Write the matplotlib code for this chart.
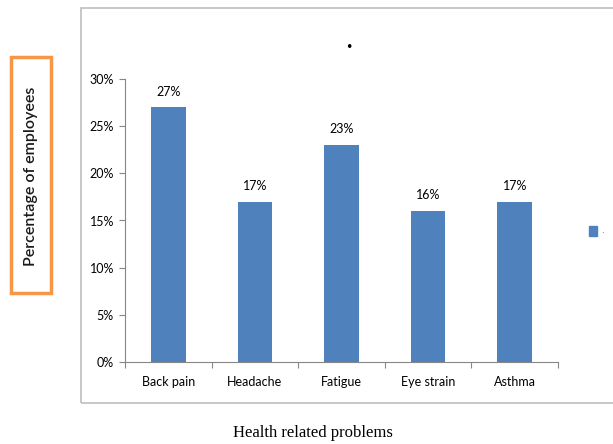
import matplotlib.pyplot as plt
from matplotlib.patches import Rectangle
from matplotlib.ticker import FuncFormatter

# Data ########################################################

problems = ["Back pain", "Headache", "Fatigue", "Eye strain", "Asthma"]
percent = [27, 17, 23, 16, 17]
y_ticks = [0, 5, 10, 15, 20, 25, 30]

# Figure ######################################################

fig = plt.figure(figsize=(6.13, 4.44), dpi=100)
W, H = 613, 444

def px(x0, y0, x1, y1):
    # pixel box -> figure fraction [left, bottom, width, height]
    return [x0 / W, 1 - y1 / H, (x1 - x0) / W, (y1 - y0) / H]

# outer chart frame
fig.patches.append(Rectangle((81 / W, 1 - 403 / H), 1, (403 - 8) / H,
                             transform=fig.transFigure, fill=False,
                             edgecolor="#bfbfbf", linewidth=1.2))

ax = fig.add_axes(px(125, 79, 558, 362))
n = len(problems)
ax.bar(range(n), percent, width=0.4, color="#4f81bd")
for i, v in enumerate(percent):
    ax.annotate(f"{v}%", (i, v), xytext=(0, 7), textcoords="offset points",
                ha="center", va="bottom", fontsize=9, family="Lato")

ax.set_xlim(-0.5, n - 0.5)
ax.set_ylim(0, 30)
ax.set_yticks(y_ticks)
ax.yaxis.set_major_formatter(FuncFormatter(lambda v, p: f"{v:.0f}%"))
ax.set_xticks([i - 0.5 for i in range(n + 1)])
ax.set_xticklabels([])
ax.set_xticks(range(n), minor=True)
ax.set_xticklabels(problems, minor=True)
ax.tick_params(axis="x", which="minor", length=0, pad=10, labelsize=9)
ax.tick_params(axis="x", which="major", length=4, color="#868686")
ax.tick_params(axis="y", length=4, color="#868686", labelsize=9, pad=4)
for lab in ax.get_xticklabels(minor=True) + ax.get_yticklabels():
    lab.set_family("Lato")
for s in ["top", "right"]:
    ax.spines[s].set_visible(False)
for s in ["left", "bottom"]:
    ax.spines[s].set_color("#868686")

# y label inside orange box
fig.patches.append(Rectangle((11 / W, 1 - 293 / H), 40 / W, (293 - 57) / H,
                             transform=fig.transFigure, fill=False,
                             edgecolor="#f79646", linewidth=2.5))
fig.text(31 / W, 1 - 176 / H, "Percentage of employees", rotation=90,
         ha="center", va="center", fontsize=11.5, family="Lato",
         fontweight="semibold", color="#1a1a1a")

fig.text(313 / W, 1 - 433 / H, "Health related problems", ha="center",
         va="center", fontsize=12, family="Liberation Serif")

# stray marks: dot above plot and legend key
fig.text(349 / W, 1 - 47 / H, "•", ha="center", va="center", fontsize=9)
fig.patches.append(Rectangle((589 / W, 1 - 236 / H), 8 / W, 10 / H,
                             transform=fig.transFigure, color="#4f81bd"))
fig.text(602 / W, 1 - 235 / H, ".", ha="center", va="bottom", fontsize=6,
         color="red")

plt.savefig("out.png")
